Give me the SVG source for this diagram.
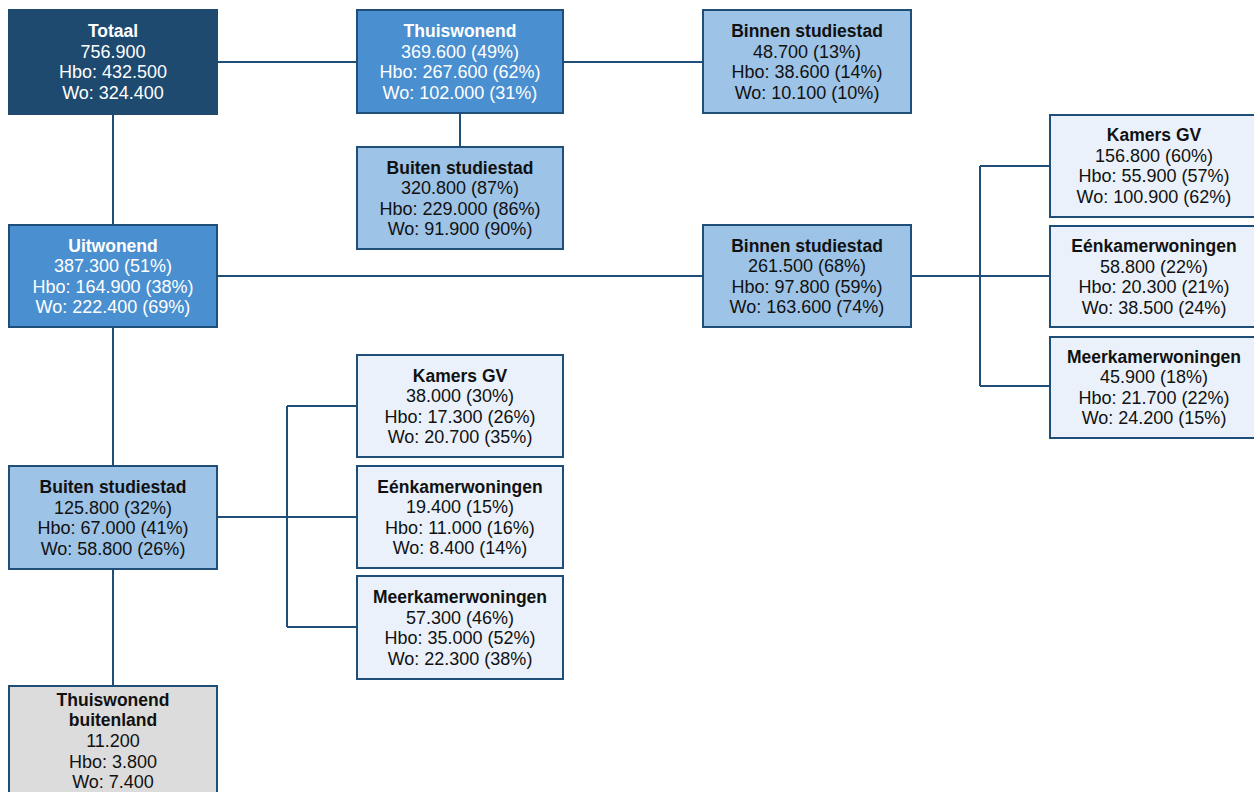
<svg xmlns="http://www.w3.org/2000/svg" width="1254" height="792" viewBox="0 0 1254 792">
<style>
rect{stroke:#1f4e79;stroke-width:2}
.dark{fill:#1e4a6f;stroke:#1e4a6f}
.mid{fill:#4a8fd0}
.light{fill:#9dc3e6}
.pale{fill:#eaf1fa}
.grey{fill:#dcdcdc}
text{font-family:"Liberation Sans",Arial,sans-serif;font-size:18px;text-anchor:middle;fill:#111}
.w text{fill:#fff}
.b{font-weight:bold;font-size:17.5px}
.conn path{fill:none;stroke:#1f4e79;stroke-width:2}
</style>
<g class="conn">
<path d="M217 62H357M563 62H703M460 113V147M113 114V225M217 276H703M911 276H980M980 166V386M980 166H1050M980 276H1050M980 386H1050M113 327V466M217 517H287M287 406V627M287 406H357M287 517H357M287 627H357M113 569V686"/>
</g>
<g id="totaal" class="w"><rect class="dark" x="9" y="10" width="208" height="104"/>
<text x="113" y="37" class="b">Totaal</text><text x="113" y="58">756.900</text><text x="113" y="78">Hbo: 432.500</text><text x="113" y="99">Wo: 324.400</text></g>
<g id="thuiswonend" class="w"><rect class="mid" x="357" y="10" width="206" height="103"/>
<text x="460" y="37" class="b">Thuiswonend</text><text x="460" y="58">369.600 (49%)</text><text x="460" y="78">Hbo: 267.600 (62%)</text><text x="460" y="99">Wo: 102.000 (31%)</text></g>
<g id="thuis-binnen"><rect class="light" x="703" y="10" width="208" height="103"/>
<text x="807" y="37" class="b">Binnen studiestad</text><text x="807" y="58">48.700 (13%)</text><text x="807" y="78">Hbo: 38.600 (14%)</text><text x="807" y="99">Wo: 10.100 (10%)</text></g>
<g id="thuis-buiten"><rect class="light" x="357" y="147" width="206" height="102"/>
<text x="460" y="174" class="b">Buiten studiestad</text><text x="460" y="194">320.800 (87%)</text><text x="460" y="215">Hbo: 229.000 (86%)</text><text x="460" y="235">Wo: 91.900 (90%)</text></g>
<g id="uitwonend" class="w"><rect class="mid" x="9" y="225" width="208" height="102"/>
<text x="113" y="252" class="b">Uitwonend</text><text x="113" y="272">387.300 (51%)</text><text x="113" y="293">Hbo: 164.900 (38%)</text><text x="113" y="313">Wo: 222.400 (69%)</text></g>
<g id="uit-binnen"><rect class="light" x="703" y="225" width="208" height="102"/>
<text x="807" y="252" class="b">Binnen studiestad</text><text x="807" y="272">261.500 (68%)</text><text x="807" y="293">Hbo: 97.800 (59%)</text><text x="807" y="313">Wo: 163.600 (74%)</text></g>
<g id="binnen-kamers"><rect class="pale" x="1050" y="115" width="208" height="102"/>
<text x="1154" y="141" class="b">Kamers GV</text><text x="1154" y="162">156.800 (60%)</text><text x="1154" y="182">Hbo: 55.900 (57%)</text><text x="1154" y="203">Wo: 100.900 (62%)</text></g>
<g id="binnen-een"><rect class="pale" x="1050" y="226" width="208" height="101"/>
<text x="1154" y="252" class="b">Eénkamerwoningen</text><text x="1154" y="273">58.800 (22%)</text><text x="1154" y="293">Hbo: 20.300 (21%)</text><text x="1154" y="314">Wo: 38.500 (24%)</text></g>
<g id="binnen-meer"><rect class="pale" x="1050" y="337" width="208" height="101"/>
<text x="1154" y="363" class="b">Meerkamerwoningen</text><text x="1154" y="383">45.900 (18%)</text><text x="1154" y="404">Hbo: 21.700 (22%)</text><text x="1154" y="424">Wo: 24.200 (15%)</text></g>
<g id="uit-buiten"><rect class="light" x="9" y="466" width="208" height="103"/>
<text x="113" y="493" class="b">Buiten studiestad</text><text x="113" y="514">125.800 (32%)</text><text x="113" y="534">Hbo: 67.000 (41%)</text><text x="113" y="555">Wo: 58.800 (26%)</text></g>
<g id="buiten-kamers"><rect class="pale" x="357" y="355" width="206" height="102"/>
<text x="460" y="382" class="b">Kamers GV</text><text x="460" y="402">38.000 (30%)</text><text x="460" y="423">Hbo: 17.300 (26%)</text><text x="460" y="443">Wo: 20.700 (35%)</text></g>
<g id="buiten-een"><rect class="pale" x="357" y="466" width="206" height="102"/>
<text x="460" y="493" class="b">Eénkamerwoningen</text><text x="460" y="513">19.400 (15%)</text><text x="460" y="534">Hbo: 11.000 (16%)</text><text x="460" y="554">Wo: 8.400 (14%)</text></g>
<g id="buiten-meer"><rect class="pale" x="357" y="576" width="206" height="103"/>
<text x="460" y="603" class="b">Meerkamerwoningen</text><text x="460" y="624">57.300 (46%)</text><text x="460" y="644">Hbo: 35.000 (52%)</text><text x="460" y="665">Wo: 22.300 (38%)</text></g>
<g id="buitenland"><rect class="grey" x="9" y="686" width="208" height="120"/>
<text x="113" y="706" class="b">Thuiswonend</text><text x="113" y="726" class="b">buitenland</text><text x="113" y="747">11.200</text><text x="113" y="768">Hbo: 3.800</text><text x="113" y="788">Wo: 7.400</text></g>
</svg>
